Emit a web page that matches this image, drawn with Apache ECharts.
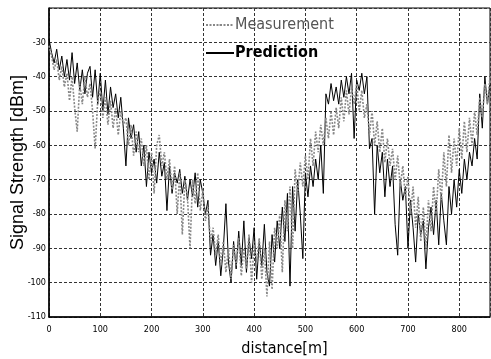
<!DOCTYPE html>
<html>
<head>
<meta charset="utf-8">
<script src="https://cdn.jsdelivr.net/npm/echarts@6/dist/echarts.min.js"></script>
<style>
  html, body { margin: 0; padding: 0; background: #fff; }
  #chart { width: 491px; height: 359px; }
</style>
</head>
<body>
<div id="chart"></div>
<script>
// distance samples every 5 m, 0..860
const distance = []
for (let d = 0; d <= 860; d += 5) distance.push(d)

const measurement = [
  -31, -34, -38, -35, -41, -37, -43, -39, -47, -40, -49, -56, -42, -48, -40, -46, -42, -50, -61, -47,
  -44, -52, -46, -54, -47, -55, -49, -57, -50, -54, -52, -60, -54, -63, -56, -62, -58, -66, -60, -70,
  -62, -74, -60, -57, -66, -62, -70, -64, -73, -66, -80, -68, -86, -70, -75, -90, -70, -77, -68, -79,
  -73, -82, -78, -88, -84, -92, -86, -95, -88, -97, -90, -99, -89, -95, -87, -98, -90, -96, -86, -100,
  -89, -94, -87, -99, -90, -104, -88, -102, -84, -90, -80, -97, -76, -85, -72, -90, -67, -74, -65, -72,
  -63, -70, -58, -66, -56, -62, -54, -60, -52, -58, -50, -57, -49, -55, -46, -53, -44, -51, -43, -48,
  -42, -50, -44, -52, -48, -57, -50, -60, -53, -62, -55, -65, -58, -66, -61, -70, -63, -72, -66, -75,
  -69, -80, -72, -84, -75, -88, -78, -90, -76, -85, -72, -80, -67, -76, -62, -72, -57, -68, -58, -66,
  -55, -64, -53, -62, -52, -60, -50, -57, -46, -52, -42, -48, -40
]

// predicted signal strength [dBm]
const prediction = [
  -29, -33, -36, -32, -38, -34, -40, -35, -41, -33, -42, -36, -44, -38, -45, -39, -37, -46, -38, -48,
  -39, -50, -41, -51, -43, -49, -45, -52, -46, -55, -66, -52, -58, -54, -62, -56, -66, -60, -72, -62,
  -68, -64, -71, -62, -69, -65, -79, -66, -74, -68, -71, -67, -74, -69, -76, -70, -75, -68, -78, -70,
  -74, -80, -76, -92, -86, -95, -88, -98, -90, -77, -94, -100, -88, -96, -85, -95, -82, -97, -87, -93,
  -84, -99, -88, -95, -83, -97, -101, -86, -94, -82, -90, -78, -88, -74, -101, -72, -85, -70, -80, -93,
  -68, -75, -66, -72, -64, -70, -60, -74, -45, -48, -42, -47, -43, -48, -41, -46, -40, -45, -39, -58,
  -41, -44, -39, -45, -40, -61, -58, -80, -60, -68, -62, -75, -64, -72, -66, -83, -92, -70, -76, -72,
  -90, -76, -84, -94, -80, -86, -82, -96, -84, -78, -86, -76, -89, -74, -82, -89, -72, -80, -70, -78,
  -67, -74, -64, -70, -62, -66, -58, -64, -45, -55, -40, -48, -42
]

const yTicks = { min: -110, max: -20, step: 10 }
const xTicks = { min: 0, max: 860, step: 100 }

const narrow = '"DejaVu Sans Condensed", "Liberation Sans Narrow", "Liberation Sans", Arial, sans-serif'

const chart = echarts.init(document.getElementById('chart'))

chart.setOption({
  animation: false,
  backgroundColor: '#fff',
  grid: {
    left: 49,
    right: 1,
    top: 8,
    bottom: 42,
    outerBoundsMode: 'none',
    show: true,
    borderColor: '#000',
    borderWidth: 1
  },
  legend: {
    orient: 'vertical',
    left: 200,
    top: 12,
    itemGap: 12,
    itemWidth: 28,
    itemHeight: 2,
    textStyle: { fontFamily: narrow, fontSize: 16, color: '#000', padding: [0, 0, 0, -4] },
    data: [
      { name: 'Measurement', textStyle: { color: '#555' } },
      { name: 'Prediction', textStyle: { fontWeight: 'bold' } }
    ]
  },
  xAxis: {
    type: 'value',
    min: xTicks.min,
    max: xTicks.max,
    interval: xTicks.step,
    name: 'distance[m]',
    nameLocation: 'middle',
    nameGap: 24,
    nameMoveOverlap: false,
    nameTextStyle: { fontFamily: narrow, fontSize: 16, color: '#000', padding: [0, 0, 0, 30] },
    axisLine: { lineStyle: { color: '#000', width: 1.5 } },
    axisTick: { show: false },
    axisLabel: { fontFamily: narrow, fontSize: 9, color: '#000', margin: 8, showMaxLabel: false },
    splitLine: { show: true, lineStyle: { color: '#333', type: [3, 2], width: 1 } }
  },
  yAxis: {
    type: 'value',
    min: yTicks.min,
    max: yTicks.max,
    interval: yTicks.step,
    name: 'Signal Strength [dBm]',
    nameLocation: 'middle',
    nameGap: 22,
    nameMoveOverlap: false,
    nameTextStyle: { fontFamily: '"Liberation Sans", Arial, sans-serif', fontSize: 18, color: '#000' },
    axisLine: { show: true, lineStyle: { color: '#000', width: 1.5 } },
    axisTick: { show: false },
    axisLabel: { fontFamily: narrow, fontSize: 9, color: '#000', margin: 3, showMaxLabel: false },
    splitLine: { show: true, lineStyle: { color: '#333', type: [3, 2], width: 1 } }
  },
  series: [
    {
      name: 'Prediction',
      type: 'line',
      symbol: 'none',
      data: distance.map((d, i) => [d, prediction[i]]),
      lineStyle: { color: '#000', width: 1 },
      itemStyle: { color: '#000' },
      z: 2
    },
    {
      name: 'Measurement',
      type: 'line',
      symbol: 'none',
      data: distance.map((d, i) => [d, measurement[i]]),
      lineStyle: { color: '#888', width: 1.6, type: [2, 1.5] },
      itemStyle: { color: '#888' },
      z: 3
    }
  ]
})
</script>
</body>
</html>
